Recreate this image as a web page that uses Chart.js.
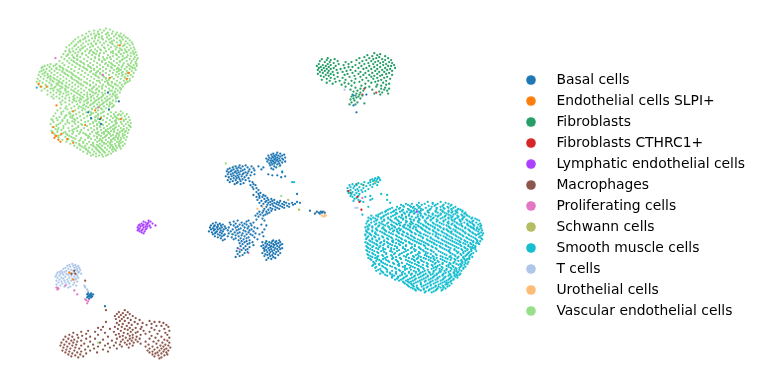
<!DOCTYPE html>
<html>
<head>
<meta charset="utf-8">
<script src="https://cdn.jsdelivr.net/npm/chart.js@4"></script>
<style>
  html, body { margin: 0; background: #fff; }
  #box { width: 761px; height: 389px; }
</style>
</head>
<body>
<div id="box"><canvas id="myChart"></canvas></div>
<script>
// Cell types and their colours, in legend order
const cellTypes = ["Basal cells", "Endothelial cells SLPI+", "Fibroblasts", "Fibroblasts CTHRC1+",
  "Lymphatic endothelial cells", "Macrophages", "Proliferating cells", "Schwann cells",
  "Smooth muscle cells", "T cells", "Urothelial cells", "Vascular endothelial cells"];
const cellColors = ["#1f77b4", "#ff7f0e", "#279e68", "#d62728", "#aa40fc", "#8c564b",
  "#e377c2", "#b5bd61", "#17becf", "#aec7e8", "#ffbb78", "#98df8a"];

// Embedding values, one row per y: [y, x, x, x ...]
const basalRows = [
[153,276],[154,272,279],[155,270,275,283],[156,267,273,277,281],[157,271,274,279],
[158,268,272,276,284],[159,265,270,274,278,281],[160,267,273,276,282],[161,269,271,275,279],
[162,266,272,277,284],[163,270,274,281],[164,268,273,278],[165,271,276],[166,238,244,269,279],
[167,234,241,250,257,273],[168,231,237,246,262,275],[169,228,235,239,252,270],[170,226,232,243,248,260,272],
[171,230,236,241,253],[172,225,229,234,239,247],[173,227,233,237,244,250,281],[174,231,235,242,246],
[175,226,229,238,241,253,267],[176,232,236,245,249,271,276],[177,224,230,234,240,284],[178,227,237,243,280],
[179,232,235,247],[180,229,238,241],[181,226,234,244],[182,231,239,248],[183,228,236,251],[184,242,235],
[185,233,239,252],[186,249,254],[188,251],[189,255],[190,252],[191,257],[193,255],[194,259],[195,257,296],
[196,252,262],[197,258,264],[198,255,261],[199,258,266],[200,263,270],[201,256,267,273],
[202,260,265,271,279],[203,264,269,276,283,296],[204,258,267,273,278,285,291,299],
[205,262,271,275,281,288,294],[206,266,269,277,283,292],[207,260,272,279,286],
[208,265,274,281,288],[209,269,276,283],[210,263,271,278],[211,267,274],[212,262,270,309],
[213,258,265,316,320,322],[214,261,268,318,321,324],[215,256,266,314,319],[216,259,264],[217,254,262],[218,257],
[220,261],[221,255],[222,236,247,263],[223,232,245],[224,214,228,240,252],[225,211,218,234,243,249],
[226,216,221,229,238,245,260],[227,209,213,219,232,241,250,265],[228,212,216,223,236,247],
[229,208,215,220,227,234,243,253],[230,211,218,224,239,246,256],[231,209,213,216,222,231,237,250,263],
[232,212,219,226,235,242,248],[233,207,215,221,229,244,252],[234,210,214,218,233,238,247,261],
[235,213,220,227,236,241,254],[236,211,216,223,231,245,249,258],[237,218,222,234,240,251],
[238,213,220,226,237,243,262],[239,216,230,247,253],[240,219,234,239,245],[241,223,232,242,256],
[242,221,237,248,272,278],[243,240,245,265,271,275],[244,243,251,261,268,274,279],[245,238,248,264,270,277],
[246,241,246,266,272,275,281],[247,252,262,268,273,279],[248,239,244,260,265,270,276],
[249,248,264,269,272,278],[250,236,242,262,267,274,281],[251,246,263,270,276,279],
[252,240,244,265,268,273],[253,235,263,271,277],[254,238,246,266,269,275],[255,243,261,272,279],
[256,236,264,268,274],[257,241,266,271,277],[258,238,263,269],[259,234,272],[260,267,274],[261,270],[262,265],
[296,85,88],[297,84,87,90],[298,86,88],[299,85,87,89],[300,84,88],[301,86],[309,102],
[92,105],[95,353],[94,366],[101,116],[105,353],[109,106],[112,85,356],[118,88],[119,97],[124,98]];
const endothelialRows = [[44,117],[72,126],[77,107],[78,124],[83,35],[86,37,43],[105,53],[110,92],[111,70],[118,98],[119,118],
[125,82],[127,50],[133,49],[134,58],[136,52,53],[138,51],[139,64],[140,55],[142,57],[143,70],[275,66],[282,70]];
const fibroRows = [
[52,374],[53,380],[54,367,377],[55,372,385],[56,364,379],[57,327,359,369,376,388],
[58,321,334,373,382],[59,326,330,356,366,385,391],[60,319,337,362,371,378],
[61,324,329,345,351,375,383,389],[62,333,359,368,380,392],[63,318,327,338,348,364,373,386],
[64,322,330,343,355,377,383,394],[65,316,325,335,361,369,388,391],[66,320,328,348,352,374,380],
[67,318,323,333,344,358,366,385,395],[68,326,330,340,363,371,377,390],[69,317,321,336,350,382,387],
[70,324,328,346,355,368,375,392],[71,319,332,342,360,379,384],[72,322,327,337,352,365,372,389],
[73,317,330,347,358,377,386],[74,325,333,344,363,369,382,392],[75,320,328,354,374,380],
[76,323,337,349,360,371,387],[77,330,342,366,377,384],[78,326,334,355,373,390],[79,321,345,362,381],
[80,329,339,351,368,378,386],[81,335,359,375],[82,326,344,354,371,383],[83,332,348,365,389],[84,341,377,386],
[85,351,361,381],[86,345,369,376],[87,355,365,385],[88,360,381,389],[89,350,372,384],[90,357,363,387],[91,353,379],
[92,360,382],[93,356,374,388],[94,352,359,380],[95,355,362],[96,351,358],[97,356],[98,353,360],[99,350],[100,354],[102,351,357],[103,364],[104,349,355],
[185,356],[186,363],[194,350]];
const cthrcRows = [[88,364],[92,376],[94,362],[192,348],[198,357],[203,359],[211,361]];
const lymphaticRows = [[222,146],[223,141,148],[224,143,146],[225,139,145,150],[226,137,141,144],[227,136,140,147,153],
[228,138,143,145],[229,135,141,148],[230,137,144],[231,136,140,143],[232,135,139],[233,137,142],[234,139],[235,141],[213,417]];
const macroRows = [
[313,103,122],[315,116,125],[316,120],[317,114,127],[318,118,123],[319,112,130],[320,116,121],[321,125,133],[322,113,119],[323,128,137],
[324,117,122,147],[325,103,132,152,157],[326,114,126,140,161],[327,120,135,149],[328,116,129,144,164],[329,124,154,159],[330,100,112,119,139,166],
[331,95,127,133,149],[332,107,115,122,138,162],[333,98,125,130,152],[334,85,118,141,157,167],[335,78,92,111,128,135,147],[336,70,102,121,133,163],
[337,83,116,125,143,155],[338,66,74,95,113,130,138,165],[339,79,120,127,149],[340,62,69,87,105,117,134,159],[341,75,123,130,153,167],
[342,65,83,92,114,127,137,147],[343,60,71,100,120,133,162],[344,68,78,109,125,129,156,165],[345,63,74,87,118,135,143,151],
[346,58,70,97,113,122,131,160,167],[347,66,81,105,127,138,154],[348,61,73,90,117,124,146,163],[349,57,69,78,102,111,130,158,166],
[350,64,85,95,119,143,150,161],[351,60,72,107,126,155,168],[352,67,76,91,114,147,159,164],[353,63,82,100,152,162],
[354,59,71,87,145,157,166],[355,66,78,105,150,161],[356,62,74,94,147,155,164],[357,69,83,153,159],
[358,65,77,150,165],[359,72,156,162],[360,68,80,152],[361,75,159],[362,157],[273,71],[276,68,72],[283,82]];
const prolifRows = [[57,52],[74,100],[107,95],[199,362],[251,238],[255,247],[288,62],[290,53],[291,55],[292,54],[293,71],[297,74],[302,82,86],[303,83],[304,85],[306,84]];
const schwannRows = [[72,125],[183,375],[201,287],[211,298]];
const smoothRows = [
[172,281],[178,378],[179,375,379],[180,372,377],[181,370,374,380],[182,373,376],[183,291,293,364,370,378],[184,358,368,375],[185,352,361,373],
[186,349,356,370,377],[187,354,366],[188,350,359,372],[189,347,353,363],[190,357,368],[191,350,355,361],[192,347,358,365],[193,352,362],[194,348,356],
[195,351,359,381],[196,354,387],[197,350,358,370],[198,352,365],[199,356],[200,354,372],[201,358,370,387],[202,353,360],
[203,428,441,363],[204,419,433,446,390],[205,406,425,438,449],[206,401,417,422,444],[207,410,429,435,451],
[208,397,404,420,441,456,368],[209,392,413,426,437,449],[210,399,408,431,445,459],[211,388,403,417,423,452,461],
[212,394,411,414,436,443,456],[213,385,400,407,428,449,453,463],[214,391,396,415,420,438,458],[215,380,397,405,425,433,447,465],
[216,362,386,409,418,441,454,462],[217,376,393,402,429,436,439,451,468],[218,383,399,412,423,445,459,470],[219,373,388,406,416,434,449,452,464],
[220,370,381,395,410,427,441,456,472],[221,377,390,403,420,431,452,455,467],[222,368,384,398,414,425,438,461,474],[223,374,392,407,418,444,455,470,473],
[224,371,379,401,412,433,448,465,477],[225,366,387,396,421,428,442,458,462,473],[226,375,383,405,416,436,452,468,479],[227,369,392,400,424,431,447,462,475],
[228,378,388,410,419,440,456,471,481],[229,365,372,395,404,427,435,450,466,478],[230,382,399,413,422,444,459,474,482],[231,368,376,390,408,430,438,454,469,480],
[232,366,385,394,417,425,448,463,477,483],[233,372,380,403,411,434,442,456,471],[234,367,389,398,420,428,451,466,482],[235,375,384,407,415,437,445,460,474,484],
[236,365,370,393,402,424,433,454,469,479],[237,378,387,411,419,441,448,463,483],[238,368,374,397,406,428,436,457,472],[239,383,391,414,423,446,452,467,480],
[240,366,372,401,409,431,439,461,476,482],[241,379,388,396,418,427,449,456,470],[242,369,376,405,413,435,443,465,478],[243,384,392,399,422,430,453,460,474,481],
[244,365,372,381,409,417,439,447,468],[245,388,396,403,426,434,457,464,477],[246,368,376,412,421,443,451,472,480],[247,383,392,400,429,437,461,469],
[248,366,373,406,415,425,447,455,476],[249,379,388,397,433,441,465,471],[250,368,376,403,411,420,451,459,474],[251,385,394,428,437,445,468,476],
[252,366,372,399,408,416,455,463,472],[253,381,390,424,432,449,466,477],[254,369,377,404,412,441,459,470],[255,386,395,420,428,451,464,474],
[256,367,373,400,408,436,445,468],[257,382,391,416,425,455,462,471],[258,370,378,404,413,433,441,466],[259,387,396,421,429,450,459,473],
[260,368,375,409,418,437,446,464,470],[261,383,392,401,426,434,455,468],[262,371,379,406,414,443,451,462],[263,388,397,422,431,459,466],
[264,373,381,410,418,439,447,469],[265,393,402,427,436,454,463],[266,375,385,407,415,443,451,468],[267,379,398,423,432,459,465],
[268,372,390,411,419,438,447,462],[269,383,403,428,436,454,466],[270,375,395,415,423,443,451,460],[271,386,407,432,440,457,464],
[272,378,399,411,419,447,455],[273,381,392,425,434,451,462],[274,387,403,416,429,441,459],[275,383,396,409,421,446,454],
[276,390,412,426,437,450,461],[277,385,402,418,431,443,457],[278,394,407,423,435,449,455],[279,398,414,428,440,452],
[280,392,404,419,433,445,458],[281,397,410,424,438,450],[282,401,415,429,443,454],[283,406,420,433,447],
[284,403,411,425,438,451],[285,409,416,430,443,449],[286,405,421,434,452],[287,412,426,439,446],[288,408,417,431,450],
[289,414,422,436,444],[290,411,427,441],[291,418,432,446],[292,415,424,437],[293,421,429,442],[294,426,434],[295,425,432],[87,33],
// second pass over the denser patches
[205,412,433],[206,408,436,452],[207,403,418,443],[208,411,414,432,448],[209,400,419,444,454],[210,390,415,421,437,452],[211,396,409,430,441,458],
[212,386,402,421,428,449,463],[213,393,412,419,436,443,457],[214,382,404,410,429,445,452,466],[215,388,414,421,441,456],[216,378,395,402,426,433,449,467],
[217,371,384,409,421,446,458,463],[218,378,391,406,418,431,438,453,465],[219,368,381,396,401,423,428,443,458,473],[220,375,388,403,419,433,449,463,476],
[221,371,384,397,411,414,437,446,460,463,478],[222,376,391,406,419,431,444,453,468,480],[223,367,382,399,411,426,437,449,461],[224,388,394,406,419,426,440,457,471],
[225,376,381,399,410,413,434,449,453,468,481],[226,369,391,397,411,423,429,444,460,474],[227,379,385,404,408,418,438,455,469,482],[228,367,372,394,403,414,426,433,449,463],
[229,383,389,410,416,421,441,457,472,474],[230,368,376,392,406,429,435,451,466,478],[231,384,397,401,416,423,444,447,461,475],[232,372,377,400,410,433,439,456,470],
[233,366,386,393,397,418,426,449,452,464,479],[234,375,382,404,412,436,443,458,473],[235,369,391,399,421,430,452,466,480],[236,376,385,408,416,439,447,461,476],
[237,365,371,396,403,426,436,456,470,477],[238,382,389,412,421,444,450,464,481],[239,367,375,399,408,431,438,459,474],[240,379,387,392,415,423,447,453,468],
[241,366,372,402,411,433,442,462,477,483],[242,384,393,398,420,428,451,458,472],[243,370,377,406,415,437,445,466,478],[244,387,393,401,424,432,455,461,474],
[245,367,374,380,410,419,441,449,471,479],[246,384,390,399,428,435,459,466],[247,370,377,406,415,424,446,453,474],[248,380,388,395,432,440,462,469],
[249,367,372,403,412,419,449,457,473,476],[250,383,391,397,426,436,443,466],[251,370,378,405,414,421,455,462,472],[252,383,391,423,431,447,450,468],
[253,367,374,397,406,415,439,457,472],[254,384,392,419,426,434,450,464],[255,372,378,402,411,443,458,469],[256,386,394,418,426,431,453,461,472],
[257,368,375,399,407,437,447,467],[258,383,392,419,427,451,456,470],[259,372,377,406,414,434,443,464],[260,385,393,400,424,431,452,458],
[261,370,377,412,417,441,448,465,470],[262,386,396,421,429,435,456,467],[263,376,381,408,415,438,445,462],[264,389,398,424,433,455,463],
[265,374,383,412,419,443,450,466],[266,379,394,399,428,435,457,461],[267,373,387,409,417,440,449,462],[268,382,399,405,427,433,453],
[269,376,392,413,421,442,449,461],[270,385,405,410,434,437,456,464],[271,380,396,418,424,447,452],[272,387,405,428,436,442,460],
[273,376,400,414,419,440,445,457],[274,382,396,409,423,434,449,455],[275,390,402,416,430,439,458],[276,380,396,405,420,433,444,455],
[277,392,411,424,437,451,460],[278,387,400,415,428,443,458],[279,392,406,421,434,446,456],[280,398,412,426,438,451],
[281,403,416,431,444,454],[282,395,408,422,436,449],[283,399,413,426,441,452],[284,408,418,431,445],[285,404,421,436,447],
[286,411,414,428,441,447],[287,407,421,431,448],[288,413,424,436,443],[289,409,428,439,448],[290,417,434,444],[291,413,424,438],[292,419,430,443],[293,416,436]];
const tcellRows = [[266,69],[267,66,72],[268,64,70,75],[269,67,73],[270,62,71,76],[271,60,65,74],[272,68,72,77],[273,58,63,70,74],[274,56,61,66,76],
[275,54,59,71,75],[276,57,63,69,78],[277,53,60,65,73],[278,56,68,74],[279,52,62,71],[280,54,58,66,75],[281,60,69,73],
[282,56,64,72],[283,53,61,68],[284,58,65,74],[285,55,62,71],[286,59,66],[287,53,63,70],[288,57,73,81],[289,61,67,82],[290,54,65,82],[292,84],[294,85],[89,344],[209,355,357]];
const urothelialRows = [[178,227],[208,261],[210,256],[213,323],[214,315,322],[216,324],[217,321,325],[218,323]];
const vascularRows = [
[27,103],[28,97,107],[29,91,101],[30,86,95,110],[31,99,105,114],[32,83,91,109,118],[33,88,96,103,113],[34,79,93,106,116,121],[35,85,99,111],
[36,75,82,96,104,119,123],[37,89,92,108,114,125],[38,72,80,100,106,120],[39,77,86,95,111,117,127],[40,70,83,91,103,123],[41,75,97,107,114,129],
[42,68,80,88,101,118,125],[43,73,85,93,110,122,130],[44,66,78,99,105,115,127],[45,71,82,90,112,120],[46,63,75,87,95,108,124,131],[47,69,79,102,117,128],
[48,66,73,84,92,106,113,122,132],[49,77,88,98,119,126],[50,62,70,82,94,103,110,130],[51,67,75,90,108,116,124,133],[52,72,86,97,101,121,128],
[53,60,65,79,93,113,118,131],[54,69,83,89,105,125,134],[55,63,74,96,110,120,128],[56,58,77,85,100,116,132],[57,66,71,92,104,122,135],
[58,61,81,88,108,114,127,131],[59,68,74,96,102,119,134],[60,56,64,84,91,111,124,129],[61,71,78,99,106,117,133],[62,59,66,87,94,114,121,128],
[63,47,53,74,81,102,109,125,134],[64,44,61,69,90,97,116,120,131],[65,41,50,56,77,85,105,112,127,134],[66,46,65,72,94,100,119,124],[67,38,53,59,81,88,109,115,130,132],
[68,43,48,68,76,97,103,122,127],[69,40,56,63,84,91,111,118,133],[70,46,51,71,79,100,107,124,129],[71,36,42,59,66,87,94,114,120],[72,48,54,75,82,103,110,126,131],
[73,39,44,62,69,90,97,116,123],[74,35,51,57,78,85,106,113,128],[75,41,47,65,72,93,100,119,125],[76,37,54,60,81,88,109,115,130],[77,44,50,68,75,96,103,122],
[78,34,40,57,63,84,91,111,118,127],[79,47,53,71,78,99,106,124],[80,36,43,60,66,87,94,114,121],[81,33,50,56,74,81,102,109,125],[82,39,46,63,69,90,97,117],
[83,53,59,77,84,105,112,122],[84,35,42,66,72,93,100,119],[85,48,56,62,80,87,108,115],[86,38,44,69,75,96,103,120],[87,51,59,65,83,90,110,117],
[88,41,47,72,78,99,106,113],[89,54,62,68,86,93,118],[90,44,50,75,81,102,109,115],[91,57,65,71,89,96,112],[92,47,53,78,84,99,105,117],
[93,60,68,74,92,102,110],[94,50,56,81,87,95,107,114],[95,63,71,77,90,100,112],[96,53,59,84,94,104,109],[97,66,74,80,88,98,115],
[98,56,62,91,102,107,113],[99,70,78,84,95,105],[100,59,66,88,99,110],[101,73,81,92,103,113],[102,62,69,77,96,107],
[103,84,90,100,109],[104,58,66,74,94,104],[105,80,87,97,111],[106,63,71,91,101,106],[107,78,85,96,109],
[108,57,68,75,93,103],[109,64,82,89,99],[110,54,72,79,95,106],[111,60,69,86,101,118],[112,76,83,93,108,113],
[113,52,66,90,98,120],[114,58,73,80,105,111,124],[115,63,70,87,95,115,118],[116,50,77,84,101,108,122],[117,56,67,92,98,113,126],
[118,61,74,81,104,110,119],[119,48,71,88,95,116,123],[120,54,64,78,100,107,127],[121,59,69,85,93,112,121],[122,50,75,82,103,109,118,125],
[123,57,66,90,97,114,128],[124,47,62,72,87,106,119,123],[125,53,79,94,100,111,126],[126,60,69,84,91,104,116,121],[127,49,75,97,108,113,128],
[128,55,65,81,88,101,118,124],[129,52,71,94,105,110,121],[130,58,78,85,91,98,115,126],[131,48,66,74,103,108,119,123],[132,54,62,89,95,111,117],
[133,60,80,93,99,106,114,125],[134,51,69,76,87,101,120],[135,57,64,83,96,104,110,122],[136,73,91,98,108,116],[137,62,68,86,94,102,113,124],
[138,55,78,100,106,118,121],[139,65,72,88,97,110,115],[140,59,82,92,103,112,123],[141,69,76,96,99,108,117],[142,63,86,94,105,114,120],
[143,73,80,90,101,107,118],[144,67,84,97,103,112,122],[145,76,88,94,109,116],[146,71,82,99,105,113,120],[147,79,91,96,110,117],
[148,74,86,102,107,114],[149,83,93,98,111,118],[150,77,89,104,109],[151,85,95,100,113],[152,80,91,106,110],
[153,87,97,102],[154,84,93,108],[155,90,99,105],[156,88,96,103],[157,93,100],
[164,224],[167,232,278],[197,280],[236,230],[244,265],[253,238],[346,95],
// second pass over the denser patches
[32,95,104],[35,92,117],[37,82,99],[40,77,109,118],[42,93,109],[44,72,89,121],[46,80,101,114],[48,77,97,118],[50,66,87,116,123],[52,79,91,110,131],[54,64,74,96,114],
[56,70,92,107,124],[58,74,96,101,120],[60,70,77,99,117],[62,73,80,103,108,133],[64,52,76,85,105,110,126],[66,39,57,80,87,108,129],[68,53,60,83,91,114,116],[70,38,59,64,88,95,116],[72,41,61,68,93,97,119],
[74,44,64,70,92,99,120],[76,45,47,68,73,95,101,122],[78,47,51,69,76,103,106],[80,49,55,73,96,104,127],[82,55,58,75,83,105,109,123],[84,48,54,78,87,106,113],[86,52,58,63,91,99,110],[88,49,57,62,89,94,118],
[90,38,55,62,70,87,96,107],[92,57,63,73,90,93,112],[94,44,65,76,84,100,110],[96,48,70,79,88,99,113],[98,50,71,77,85,96],[100,71,76,83,93,104],[102,57,85,91,101],[104,81,88,99,107],[106,76,83,96,110],[108,62,80,89,98],
[112,58,66,88,100],[114,67,88,95,116],[116,62,69,93,112],[118,53,69,88,95,114],[120,49,59,72,92,113,121],[122,64,71,90,96,113],[124,55,78,94,99,113],[126,53,75,97,110,127],[128,60,73,94,107,112],[130,54,69,103,111,120],
[132,49,70,77,101,105,122],[134,63,82,94,107,114,116],[136,55,66,85,103,113,120],[138,70,85,94,111,115],[140,64,77,98,108,118],[142,70,80,99,109,116],[144,76,90,101,107,116],[146,77,90,95,108,116],[148,81,93,97,110],[150,83,94,99,112],[152,85,96,101]];

// Turn [y, x, x ...] rows into Chart.js points
function rowsToPoints(rows) {
  return rows.flatMap(row => row.slice(1).map(x => ({ x: x, y: row[0] })));
}

const allRows = [basalRows, endothelialRows, fibroRows, cthrcRows, lymphaticRows, macroRows,
  prolifRows, schwannRows, smoothRows, tcellRows, urothelialRows, vascularRows];

// Legend dots are small canvases so the gap to the label can be wider than the dot
function legendDot(color) {
  const dot = document.createElement('canvas');
  dot.width = 12;
  dot.height = 12;
  const g = dot.getContext('2d');
  g.fillStyle = color;
  g.beginPath();
  g.arc(6, 6, 4.8, 0, Math.PI * 2);
  g.fill();
  return dot;
}

const ctx = document.getElementById('myChart');
const myChart = new Chart(ctx, {
  type: 'scatter',
  data: {
    datasets: cellTypes.map((name, i) => ({
      label: name,
      data: rowsToPoints(allRows[i]),
      backgroundColor: cellColors[i],
      borderWidth: 0,
      pointRadius: 1.15
    }))
  },
  options: {
    animation: false,
    responsive: true,
    maintainAspectRatio: false,
    layout: { padding: { right: 6, top: 2 } },
    scales: {
      x: { display: false, min: 0, max: 506.4 },
      y: { display: false, min: 2, max: 389, reverse: true }
    },
    plugins: {
      tooltip: { enabled: false },
      legend: {
        position: 'right',
        labels: {
          usePointStyle: true,
          pointStyleWidth: 37,
          padding: 7.1,
          color: '#000',
          font: { family: 'DejaVu Sans', size: 13.89 },
          generateLabels: chart => chart.data.datasets.map((ds, i) => ({
            text: ds.label,
            fillStyle: ds.backgroundColor,
            strokeStyle: ds.backgroundColor,
            lineWidth: 0,
            pointStyle: legendDot(ds.backgroundColor),
            datasetIndex: i
          }))
        }
      }
    }
  }
});
</script>
</body>
</html>
